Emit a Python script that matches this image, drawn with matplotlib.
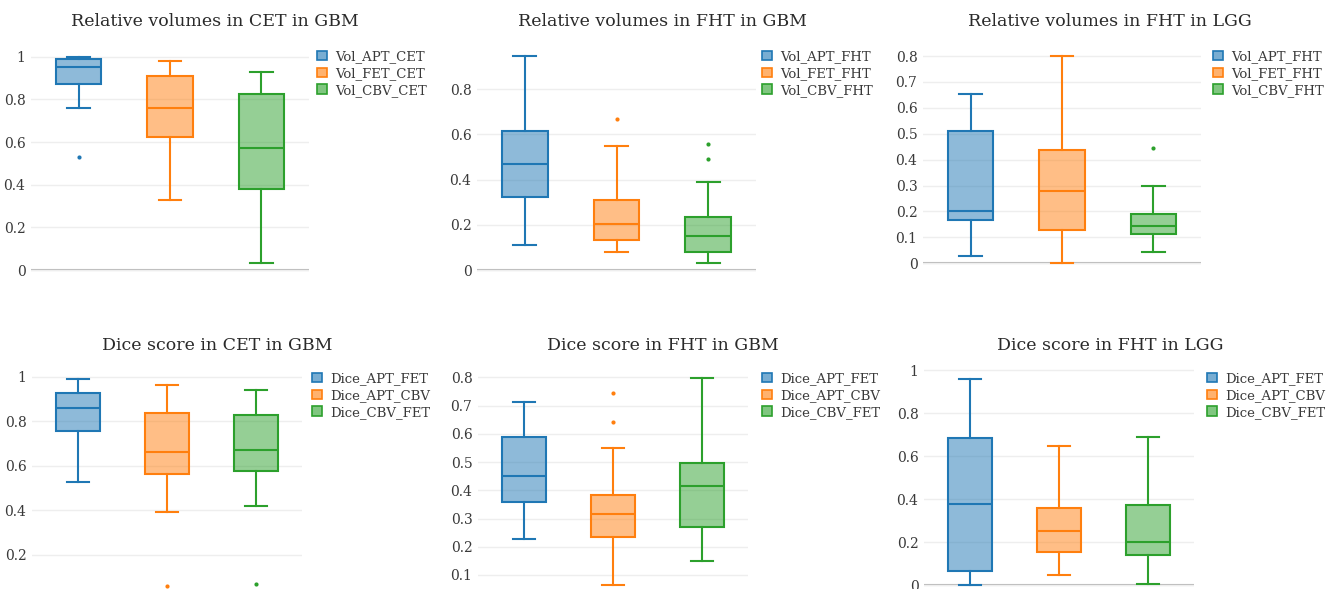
import matplotlib
matplotlib.use("Agg")
import matplotlib.pyplot as plt
from matplotlib.patches import Patch
from matplotlib.ticker import FuncFormatter
import numpy as np

W, H = 1334, 589
COLORS = ["#1f77b4", "#ff7f0e", "#2ca02c"]
TEXT = "#3a3a3a"

# box statistics: (whislo, q1, med, q3, whishi, fliers)
vol_cet_gbm_labels = ["Vol_APT_CET", "Vol_FET_CET", "Vol_CBV_CET"]
vol_cet_gbm = [
    (0.761, 0.870, 0.953, 0.988, 1.0, [0.531]),
    (0.328, 0.625, 0.761, 0.909, 0.980, []),
    (0.034, 0.380, 0.570, 0.823, 0.930, []),
]

vol_fht_gbm_labels = ["Vol_APT_FHT", "Vol_FET_FHT", "Vol_CBV_FHT"]
vol_fht_gbm = [
    (0.111, 0.321, 0.471, 0.615, 0.948, []),
    (0.080, 0.133, 0.202, 0.310, 0.549, [0.667]),
    (0.032, 0.078, 0.152, 0.233, 0.389, [0.492, 0.560]),
]

vol_fht_lgg_labels = ["Vol_APT_FHT", "Vol_FET_FHT", "Vol_CBV_FHT"]
vol_fht_lgg = [
    (0.030, 0.167, 0.202, 0.511, 0.652, []),
    (0.0, 0.129, 0.278, 0.437, 0.800, []),
    (0.045, 0.113, 0.145, 0.190, 0.300, [0.444]),
]

dice_labels = ["Dice_APT_FET", "Dice_APT_CBV", "Dice_CBV_FET"]
dice_cet_gbm = [
    (0.529, 0.758, 0.858, 0.928, 0.990, []),
    (0.391, 0.562, 0.660, 0.836, 0.963, [0.062]),
    (0.420, 0.577, 0.672, 0.830, 0.942, [0.068]),
]

dice_fht_gbm = [
    (0.226, 0.357, 0.452, 0.589, 0.711, []),
    (0.064, 0.236, 0.315, 0.384, 0.550, [0.641, 0.746]),
    (0.151, 0.270, 0.415, 0.496, 0.798, []),
]

dice_fht_lgg = [
    (0.0, 0.067, 0.377, 0.685, 0.958, []),
    (0.047, 0.152, 0.250, 0.358, 0.648, []),
    (0.004, 0.140, 0.202, 0.372, 0.687, []),
]

titles = [
    "Relative volumes in CET in GBM",
    "Relative volumes in FHT in GBM",
    "Relative volumes in FHT in LGG",
    "Dice score in CET in GBM",
    "Dice score in FHT in GBM",
    "Dice score in FHT in LGG",
]

# layout (pixels): axes x-range, axes y-range, two pixel/value pairs for the y scale,
# ticks, title position, legend anchor
panels = [
    dict(data=vol_cet_gbm, labels=vol_cet_gbm_labels, xr=(31, 309), yr=(45, 280),
         cal=((270, 0.0), (56.7, 1.0)), ticks=np.arange(0, 1.01, 0.2),
         title=(215, 22), leg=(317, 50)),
    dict(data=vol_fht_gbm, labels=vol_fht_gbm_labels, xr=(477, 756), yr=(45, 280),
         cal=((270, 0.0), (89.3, 0.8)), ticks=np.arange(0, 0.81, 0.2),
         title=(662, 22), leg=(762, 50)),
    dict(data=vol_fht_lgg, labels=vol_fht_lgg_labels, xr=(923, 1201), yr=(45, 280),
         cal=((263.3, 0.0), (56, 0.8)), ticks=np.arange(0, 0.81, 0.1),
         title=(1110, 22), leg=(1213, 50)),
    dict(data=dice_cet_gbm, labels=dice_labels, xr=(32, 302), yr=(365, 600),
         cal=((376.7, 1.0), (555, 0.2)), ticks=np.arange(0.2, 1.01, 0.2),
         title=(217, 346), leg=(312, 372)),
    dict(data=dice_fht_gbm, labels=dice_labels, xr=(478, 748), yr=(365, 600),
         cal=((377.3, 0.8), (575, 0.1)), ticks=np.arange(0.1, 0.81, 0.1),
         title=(663, 346), leg=(762, 372)),
    dict(data=dice_fht_lgg, labels=dice_labels, xr=(924, 1194), yr=(365, 600),
         cal=((370, 1.0), (585, 0.0)), ticks=np.arange(0, 1.01, 0.2),
         title=(1110, 346), leg=(1207, 372)),
]

plt.rcParams["font.family"] = ["DejaVu Serif"]

fig = plt.figure(figsize=(W / 100, H / 100), dpi=100)
fig.patch.set_facecolor("white")

for p, title in zip(panels, titles):
    x0, x1 = p["xr"]
    top, bottom = p["yr"]
    ax = fig.add_axes([x0 / W, 1 - bottom / H, (x1 - x0) / W, (bottom - top) / H])

    (pa, va), (pb, vb) = p["cal"]
    scale = (vb - va) / (pa - pb)
    ax.set_ylim(va - (bottom - pa) * scale, va + (pa - top) * scale)
    ax.set_xlim(-0.52, 2.52)

    stats = []
    for lo, q1, med, q3, hi, fl in p["data"]:
        stats.append(dict(whislo=lo, q1=q1, med=med, q3=q3, whishi=hi, fliers=fl))

    for i, (st, c) in enumerate(zip(stats, COLORS)):
        ax.bxp([st], positions=[i], widths=0.5, capwidths=0.25, patch_artist=True,
               showfliers=True,
               boxprops=dict(facecolor=matplotlib.colors.to_rgba(c, 0.5), edgecolor=c, linewidth=1.5),
               medianprops=dict(color=c, linewidth=1.5),
               whiskerprops=dict(color=c, linewidth=1.5),
               capprops=dict(color=c, linewidth=1.5),
               flierprops=dict(marker="o", markersize=3, markerfacecolor=c,
                               markeredgecolor="none"),
               zorder=3)

    ax.set_yticks(p["ticks"])
    ax.yaxis.set_major_formatter(FuncFormatter(lambda v, _: f"{round(v, 2):g}"))
    ax.set_xticks([])
    ax.tick_params(axis="y", length=0, pad=4, labelsize=10, labelcolor=TEXT)
    ax.grid(axis="y", color="#eeeeee", linewidth=1, zorder=0)
    ax.axhline(0, color="#b5b5b5", linewidth=1.5, zorder=1)
    for s in ax.spines.values():
        s.set_visible(False)
    ax.set_facecolor("none")

    fig.text(p["title"][0] / W, 1 - p["title"][1] / H, title, ha="center", va="center",
             fontsize=12.5, color="#2a2a2a")

    handles = [Patch(facecolor=matplotlib.colors.to_rgba(c, 0.6), edgecolor=c, linewidth=1.2)
               for c in COLORS]
    ax.legend(handles, p["labels"], loc="upper left",
              bbox_to_anchor=(p["leg"][0] / W, 1 - p["leg"][1] / H),
              bbox_transform=fig.transFigure, frameon=False, borderpad=0,
              borderaxespad=0, fontsize=9.5, handlelength=0.75, handleheight=0.75,
              handletextpad=0.6, labelspacing=0.3, labelcolor=TEXT)

fig.savefig("out.png", dpi=100, facecolor="white")
